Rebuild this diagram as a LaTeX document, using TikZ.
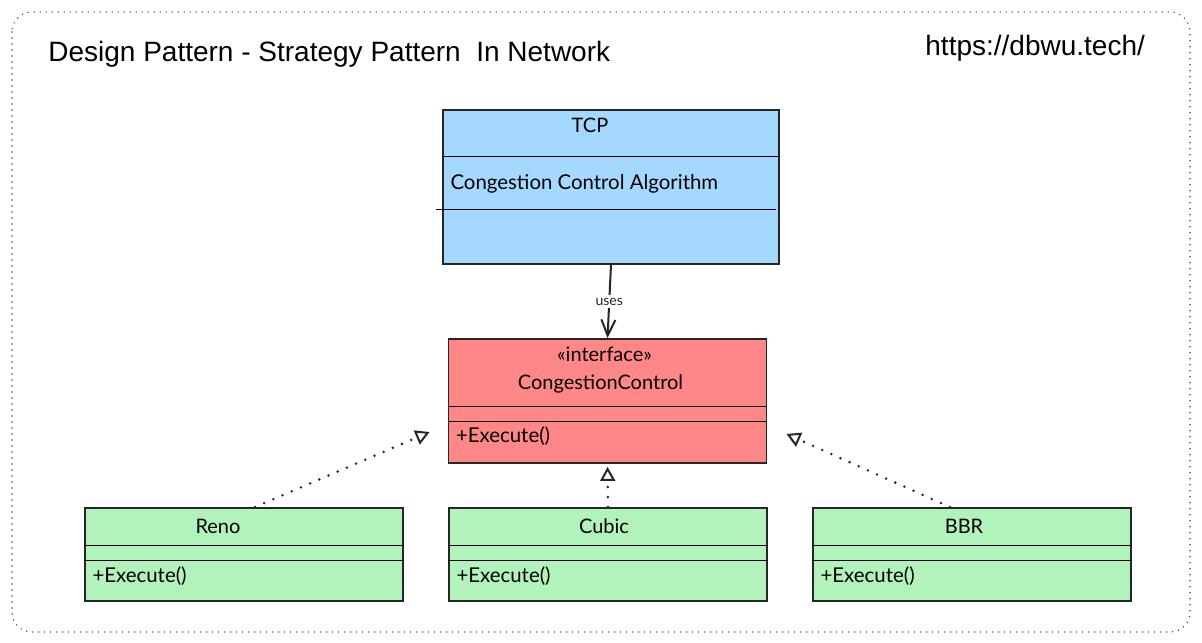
\documentclass[tikz,border=0pt]{standalone}
\usepackage{fontspec}
\setmainfont{Lato}
\newfontfamily\headfont{Liberation Sans}
\usetikzlibrary{calc,arrows.meta}

\definecolor{tcpblue}{HTML}{A5D8FF}
\definecolor{ifacered}{HTML}{FF8787}
\definecolor{implgreen}{HTML}{B2F2BB}

\tikzset{
    classbox/.style={draw=black!85, line width=0.9pt, minimum width=159pt, minimum height=46.5pt, inner sep=0pt},
    sepline/.style={black, line width=0.5pt},
    member/.style={anchor=west, font=\fontsize{10.2}{12}\selectfont, inner sep=0pt},
    title/.style={font=\fontsize{10}{12}\selectfont, inner sep=0pt},
    realizes/.style={black!85, line width=1.4pt, line cap=round, dash pattern=on 0pt off 5pt,
        -{Triangle[open, length=7pt, width=7.5pt, line width=1pt]}},
}

\begin{document}
\begin{tikzpicture}[x=0.5pt, y=-0.5pt]
    \useasboundingbox (0,0) rectangle (1202,642);

    % frame and headings
    \draw[black!70, line width=0.8pt, line cap=round, dash pattern=on 0pt off 3pt, rounded corners=10pt]
        (12,12) rectangle (1190,632);
    \node[anchor=west, font=\headfont\fontsize{14}{17}\selectfont, inner sep=0pt] (heading) at (48,54)
        {Design Pattern - Strategy Pattern\ \ In Network};
    \node[anchor=west, font=\headfont\fontsize{14}{17}\selectfont, inner sep=0pt] (site) at (925,48)
        {https://dbwu.tech/};

    % context
    \node[classbox, fill=tcpblue, minimum width=168pt, minimum height=77pt] (tcp) at (611,187) {};
    \draw[sepline] ($(tcp.north west)+(0,47)$) -- ($(tcp.north east)+(0,47)$);
    \draw[sepline] ($(tcp.north west)+(-6,100)$) -- ($(tcp.north east)+(-4,100)$);
    \node[title] (tcp_name) at ($(tcp.north)+(-21,16)$) {TCP};
    \node[member] (tcp_attr) at ($(tcp.north west)+(8,75)$) {Congestion Control Algorithm};

    % strategy interface
    \node[classbox, fill=ifacered, minimum height=62pt] (iface) at (607.5,401) {};
    \draw[sepline] ($(iface.north west)+(0,68)$) -- ($(iface.north east)+(0,68)$);
    \draw[sepline] ($(iface.north west)+(0,83)$) -- ($(iface.north east)+(0,83)$);
    \node[title] (iface_stereo) at ($(iface.north)+(-3,16)$) {«interface»};
    \node[title] (iface_name) at ($(iface.north)+(-7,46)$) {CongestionControl};
    \node[member] (iface_op) at ($(iface.north west)+(8,98)$) {+Execute()};

    % concrete strategies
    \foreach \name/\label/\cx/\dx in {reno/Reno/244/-26, cubic/Cubic/608/-4, bbr/BBR/972/-8} {
        \node[classbox, fill=implgreen] (\name) at (\cx,554.5) {};
        \draw[sepline] ($(\name.north west)+(0,38)$) -- ($(\name.north east)+(0,38)$);
        \draw[sepline] ($(\name.north west)+(0,53)$) -- ($(\name.north east)+(0,53)$);
        \node[title] (\name_title) at ($(\name.north)+(\dx,19)$) {\label};
        \node[member] (\name_op) at ($(\name.north west)+(8,69)$) {+Execute()};
    }

    % relations
    \draw[black!85, line width=1pt, -{Straight Barb[length=8pt, width=7pt, line width=1pt]}]
        (tcp.south) -- node[fill=white, font=\fontsize{7}{8}\selectfont, inner sep=1.5pt] (uses_lbl) {uses} (iface.north);

    \coordinate (reno_tip) at ($(iface.west)+(-18,31)$);
    \coordinate (cubic_tip) at ($(iface.south)+(0,3)$);
    \coordinate (bbr_tip) at ($(iface.east)+(19,33)$);

    \draw[realizes] ($(reno.north)+(11,0)$) -- (reno_tip);
    \draw[realizes] (cubic.north) -- (cubic_tip);
    \draw[realizes] ($(bbr.north)+(-22,0)$) -- (bbr_tip);
\end{tikzpicture}
\end{document}
